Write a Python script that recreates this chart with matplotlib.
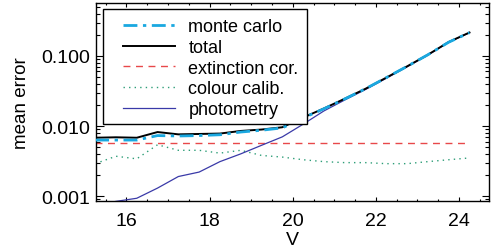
import matplotlib
matplotlib.use("Agg")
import matplotlib.pyplot as plt
import numpy as np
from matplotlib.ticker import FixedLocator, NullFormatter, LogLocator
from matplotlib.patches import Rectangle

plt.rcParams['font.family'] = ['Liberation Sans', 'DejaVu Sans']

V = [15.25, 15.75, 16.25, 16.75, 17.25, 17.75, 18.25, 18.75, 19.25, 19.75,
     20.25, 20.75, 21.25, 21.75, 22.25, 22.75, 23.25, 23.75, 24.25]
total = [0.0068, 0.0069, 0.0068, 0.0082, 0.0076, 0.0077, 0.0078, 0.0085, 0.0089, 0.0096,
         0.0132, 0.0178, 0.0245, 0.034, 0.049, 0.071, 0.104, 0.158, 0.216]
monte_carlo = [0.0063, 0.0063, 0.0063, 0.0073, 0.0072, 0.0073, 0.0075, 0.0082, 0.0087, 0.0094,
               0.0130, 0.0176, 0.0243, 0.034, 0.049, 0.071, 0.104, 0.157, 0.215]
extinction = [0.0057] * 19
colour = [0.0029, 0.0037, 0.0034, 0.0054, 0.0045, 0.0045, 0.0041, 0.0045, 0.0038, 0.0036,
          0.0033, 0.0031, 0.0030, 0.0030, 0.0029, 0.0029, 0.0031, 0.0033, 0.0035]
photometry = [0.00072, 0.00084, 0.00093, 0.0013, 0.0019, 0.0022, 0.0031, 0.0040, 0.0053, 0.0070,
              0.0106, 0.0164, 0.0235, 0.0332, 0.048, 0.070, 0.103, 0.157, 0.215]

W, H = 493, 253
fig = plt.figure(figsize=(W / 100, H / 100), dpi=100)
ax = fig.add_axes([96 / W, 1 - 202 / H, (489 - 96) / W, (202 - 4) / H])

ax.plot(V, monte_carlo, color='#1AA8E0', lw=2.0, ls=(0, (5, 2, 1.2, 2)), label='monte carlo', zorder=4)
ax.plot(V, total, color='black', lw=1.4, label='total', zorder=3)
ax.plot(V, extinction, color='#E8484A', lw=1.0, ls=(0, (5, 4)), label='extinction cor.', zorder=2)
ax.plot(V, colour, color='#2E9E78', lw=1.0, ls=(0, (1, 3)), label='colour calib.', zorder=2)
ax.plot(V, photometry, color='#3A3AA8', lw=0.9, label='photometry', zorder=2)

ax.set_yscale('log')
ax.set_xlim(15.27, 24.72)
ax.set_ylim(0.00085, 0.57)

ax.set_xticks([16, 18, 20, 22, 24])
ax.xaxis.set_minor_locator(FixedLocator(np.arange(15.5, 24.75, 0.5)))
ax.set_yticks([0.001, 0.01, 0.1])
ax.set_yticklabels(['0.001', '0.010', '0.100'])
ax.yaxis.set_minor_locator(LogLocator(base=10, subs=np.arange(2, 10)))
ax.yaxis.set_minor_formatter(NullFormatter())

ax.tick_params(which='both', direction='in', top=True, right=True, labelsize=14, width=0.8)
ax.tick_params(axis='x', which='major', length=2.6, pad=8)
ax.tick_params(axis='x', which='minor', length=1.5)
ax.tick_params(axis='y', which='major', length=5.4, pad=4)
ax.tick_params(axis='y', which='minor', length=2.9)
for s in ax.spines.values():
    s.set_linewidth(1.0)

ax.set_xlabel('V', fontsize=14)
ax.xaxis.set_label_coords(0.5, (202 - 232) / 198)
ax.set_ylabel('mean error', fontsize=13.5)
ax.yaxis.set_label_coords((30 - 96) / 393, 0.5)

# legend frame and entries
frame = Rectangle((103 / W, 1 - 125 / H), (307 - 103) / W, (125 - 10) / H,
                  transform=fig.transFigure, fill=True, facecolor='white',
                  edgecolor='black', lw=1.0, zorder=4.5, clip_on=False)
ax.add_artist(frame)
leg = ax.legend(loc='upper left', bbox_to_anchor=(123 / W, 1 - 19.5 / H),
                bbox_transform=fig.transFigure, fontsize=13,
                frameon=False, handlelength=2.9, handletextpad=0.72,
                borderpad=0, labelspacing=0.2, borderaxespad=0)
leg.set_zorder(6)

fig.savefig('out.png', dpi=100)
